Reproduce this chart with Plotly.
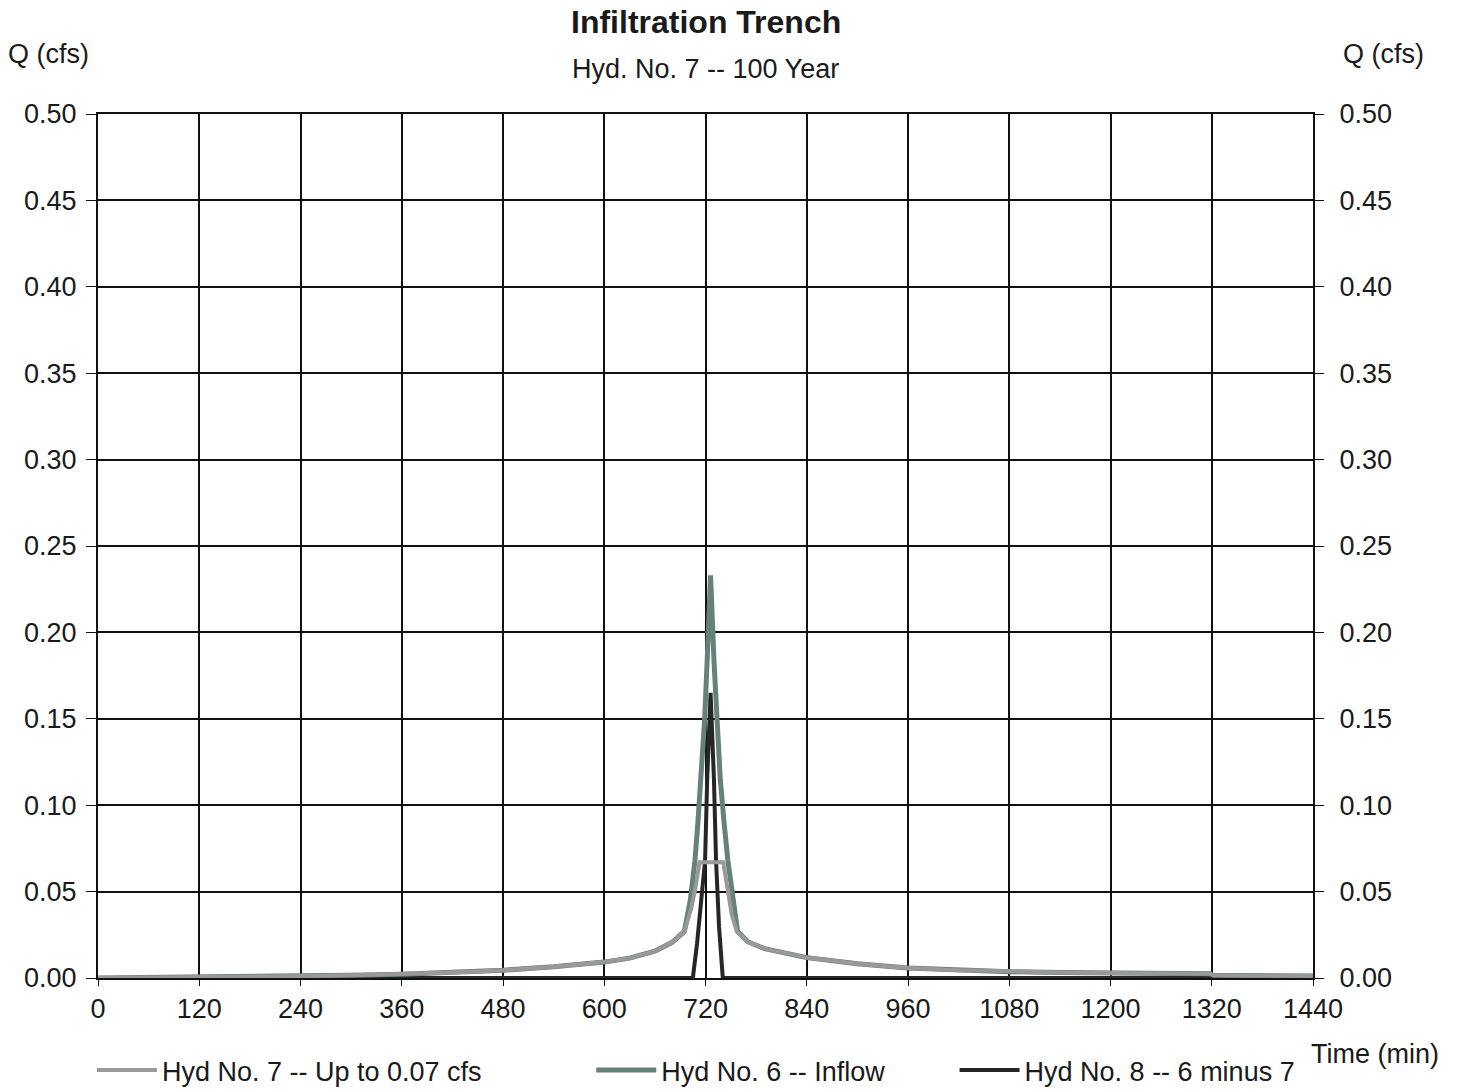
import plotly.graph_objects as go

# Hydrograph data (time in minutes, flow in cfs)
time_inflow = [0, 60, 120, 180, 240, 300, 360, 420, 480, 540, 600, 630, 660, 680, 695, 702,
               707.5, 711, 714.5, 719, 722, 726, 730, 733, 737.5, 742, 746.5, 753, 758, 770, 790,
               840, 900, 960, 1020, 1080, 1140, 1200, 1260, 1318, 1322, 1380, 1440]
q_inflow = [0.0, 0.0002, 0.0005, 0.0008, 0.0012, 0.0016, 0.0022, 0.0032, 0.0045, 0.0065, 0.0092,
            0.0115, 0.0155, 0.0205, 0.027, 0.045, 0.068, 0.09, 0.115, 0.15, 0.184, 0.233,
            0.184, 0.15, 0.115, 0.09, 0.068, 0.045, 0.027, 0.021, 0.017, 0.0118, 0.0082,
            0.0058, 0.0045, 0.0036, 0.0032, 0.0029, 0.0027, 0.0025, 0.0016, 0.0014, 0.0012]

time_trench = [0, 60, 120, 180, 240, 300, 360, 420, 480, 540, 600, 630, 660, 680, 695, 703, 708,
               713, 741, 746, 751, 757, 770, 790, 840, 900, 960, 1020, 1080, 1140, 1200, 1260,
               1318, 1322, 1380, 1440]
q_trench = [0.0, 0.0002, 0.0005, 0.0008, 0.0012, 0.0016, 0.0022, 0.0032, 0.0045, 0.0065, 0.0092,
            0.0115, 0.0155, 0.0205, 0.027, 0.040, 0.052, 0.067, 0.067, 0.050, 0.037, 0.027,
            0.021, 0.017, 0.0118, 0.0082, 0.0058, 0.0045, 0.0036, 0.0032, 0.0029, 0.0027,
            0.0025, 0.0016, 0.0014, 0.0012]

time_bypass = [0, 705, 710, 715, 719.5, 722, 726, 730, 732.5, 736, 740.5, 1440]
q_bypass = [0.0, 0.0, 0.02, 0.045, 0.068, 0.115, 0.165, 0.115, 0.068, 0.03, 0.0, 0.0]

x_ticks = list(range(0, 1441, 120))
y_ticks = [round(0.05 * i, 2) for i in range(11)]

FONT = "Liberation Sans, Arial, sans-serif"
TXT = "#1a1a1a"
C_TRENCH = "#999999"
C_INFLOW = "#66807a"
C_BYPASS = "#262626"

fig = go.Figure()

# drawn bottom to top: bypass, inflow, trench outflow
fig.add_trace(go.Scatter(x=time_bypass, y=q_bypass, mode="lines", name="Hyd No. 8 -- 6 minus 7",
                         line=dict(color=C_BYPASS, width=4), legend="legend3"))
fig.add_trace(go.Scatter(x=time_inflow, y=q_inflow, mode="lines", name="Hyd No. 6 -- Inflow",
                         line=dict(color=C_INFLOW, width=5), legend="legend2"))
fig.add_trace(go.Scatter(x=time_trench, y=q_trench, mode="lines", name="Hyd No. 7 -- Up to 0.07 cfs",
                         line=dict(color=C_TRENCH, width=4), legend="legend"))
# invisible trace carrying the right-hand axis
fig.add_trace(go.Scatter(x=[0], y=[0], yaxis="y2", mode="markers", marker=dict(opacity=0),
                         showlegend=False, hoverinfo="skip"))

axis_font = dict(family=FONT, size=27, color=TXT)
leg_common = dict(orientation="h", yanchor="middle", y=-0.107, xanchor="left",
                  font=dict(family=FONT, size=27, color=TXT),
                  bgcolor="rgba(0,0,0,0)", itemwidth=60)

fig.update_layout(
    width=1457, height=1091,
    margin=dict(l=98, r=144, t=114, b=113, autoexpand=False),
    paper_bgcolor="white", plot_bgcolor="white",
    showlegend=True,
    legend=dict(leg_common, x=-0.005),
    legend2=dict(leg_common, x=0.406),
    legend3=dict(leg_common, x=0.705),
    xaxis=dict(range=[0, 1440], tickvals=x_ticks, showgrid=True, gridcolor="#111111", gridwidth=1.5,
               showline=True, linecolor="#111111", linewidth=2, mirror=True,
               ticks="outside", ticklen=6, tickcolor="#111111", tickfont=axis_font,
               zeroline=False),
    yaxis=dict(range=[0, 0.5], tickvals=y_ticks, tickformat=".2f", showgrid=True,
               gridcolor="#111111", gridwidth=1.5, showline=True, linecolor="#111111",
               linewidth=2, mirror=True, ticks="outside", ticklen=10, tickcolor="#111111",
               tickfont=axis_font, zeroline=False, ticklabelstandoff=4),
    yaxis2=dict(range=[0, 0.5], tickvals=y_ticks, tickformat=".2f", overlaying="y", side="right",
                showgrid=False, ticks="outside", ticklen=10, tickcolor="#111111",
                tickfont=axis_font, zeroline=False, ticklabelstandoff=10),
    annotations=[
        dict(text="<b>Infiltration Trench</b>", x=0.5, y=1.107, xref="paper", yref="paper",
             xanchor="center", yanchor="middle", showarrow=False,
             font=dict(family=FONT, size=32, color=TXT)),
        dict(text="Hyd. No. 7 -- 100 Year", x=0.5, y=1.052, xref="paper", yref="paper",
             xanchor="center", yanchor="middle", showarrow=False,
             font=dict(family=FONT, size=27, color=TXT)),
        dict(text="Q (cfs)", x=-0.041, y=1.069, xref="paper", yref="paper",
             xanchor="center", yanchor="middle", showarrow=False,
             font=dict(family=FONT, size=27, color=TXT)),
        dict(text="Q (cfs)", x=1.058, y=1.069, xref="paper", yref="paper",
             xanchor="center", yanchor="middle", showarrow=False,
             font=dict(family=FONT, size=27, color=TXT)),
        dict(text="Time (min)", x=1.051, y=-0.088, xref="paper", yref="paper",
             xanchor="center", yanchor="middle", showarrow=False,
             font=dict(family=FONT, size=27, color=TXT)),
    ],
)

fig.write_html("out.html")
